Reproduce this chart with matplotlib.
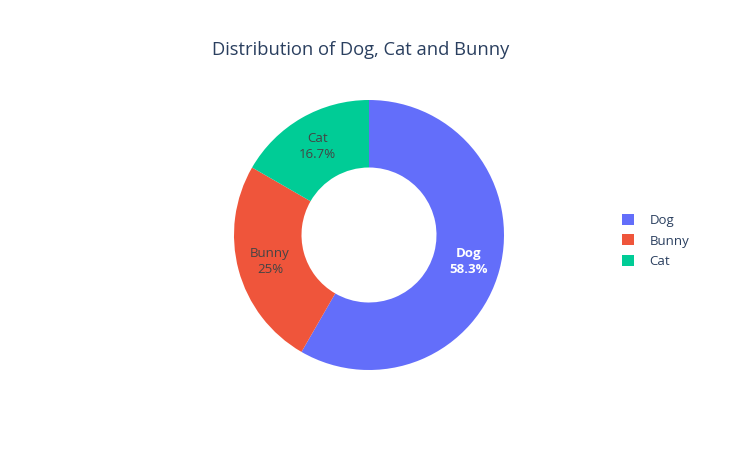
import matplotlib.pyplot as plt
import numpy as np
from matplotlib.patches import Patch

labels = ["Dog", "Bunny", "Cat"]
values = [7, 3, 2]
colors = ["#636efa", "#ef553b", "#00cc96"]
text_colors = ["white", "#444444", "#444444"]
text_weights = ["bold", "normal", "normal"]

W, H = 737, 450
fig = plt.figure(figsize=(W / 100, H / 100), dpi=100)
plt.rcParams['font.family'] = ['Open Sans', 'DejaVu Sans']

# pie center and radius in pixels
cx, cy, R = 369, 235, 135
ax = fig.add_axes([(cx - R) / W, (H - cy - R) / H, 2 * R / W, 2 * R / H])

total = sum(values)
wedges, texts = ax.pie(values, colors=colors, startangle=90, counterclock=False,
                       radius=1.0, wedgeprops=dict(width=0.5, linewidth=0))
ax.set_xlim(-1, 1)
ax.set_ylim(-1, 1)
ax.set_aspect("equal")
ax.axis("off")

for w, lab, v, tc, tw in zip(wedges, labels, values, text_colors, text_weights):
    ang = np.deg2rad((w.theta1 + w.theta2) / 2)
    r = 0.76
    pct = 100 * v / total
    s = f"{pct:.1f}".rstrip("0").rstrip(".") + "%"
    ax.text(r * np.cos(ang), r * np.sin(ang), f"{lab}\n{s}", ha="center", va="center",
            color=tc, fontsize=9.5, fontweight=tw, linespacing=1.3)

fig.text(361 / W, 1 - 50 / H, "Distribution of Dog, Cat and Bunny", ha="center", va="center",
         fontsize=13.2, color="#2a3f5f")

handles = [Patch(facecolor=c, edgecolor="none") for c in colors]
fig.legend(handles, labels, loc="center left", bbox_to_anchor=(610 / W, 1 - 241 / H),
           frameon=False, fontsize=9.5, labelcolor="#2a3f5f", handlelength=0.9,
           handleheight=0.9, handletextpad=1.2, labelspacing=0.55)

fig.savefig("out.png", dpi=100)
